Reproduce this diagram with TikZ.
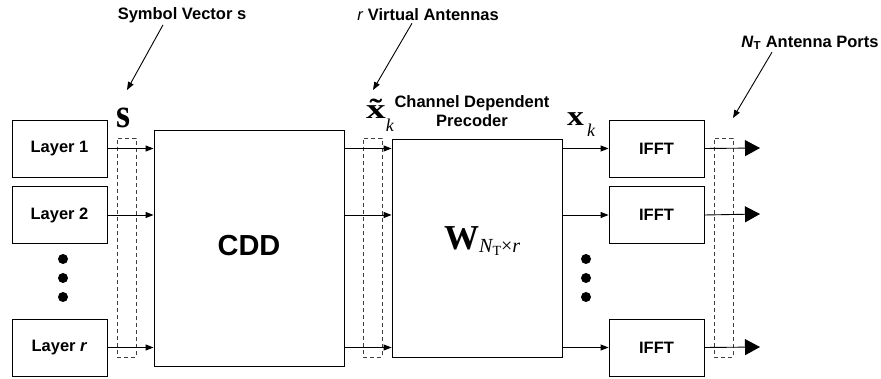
\documentclass[tikz,border=0pt]{standalone}
\usepackage[no-math]{fontspec}
\setmainfont{Liberation Sans}
\newfontfamily\tnr{Liberation Serif}
\usetikzlibrary{positioning, arrows.meta}

\begin{document}
\begin{tikzpicture}[x=1pt, y=-1pt, >={Triangle[length=8pt,width=6pt]},
    blk/.style={draw, line width=0.9pt, inner sep=0pt, font=\fontsize{16.5}{19}\selectfont\bfseries},
    smallblk/.style={blk, minimum width=95pt, minimum height=57pt},
    grp/.style={draw=black!75, line width=0.8pt, dash pattern=on 4pt off 3pt, minimum width=19pt, minimum height=219pt, inner sep=0pt},
    lbl/.style={font=\fontsize{16.5}{19}\selectfont\bfseries, inner sep=1pt},
    sym/.style={anchor=base west, inner sep=0pt, font=\tnr},
    dot/.style={fill, circle, inner sep=0pt, minimum size=10pt},
    flow/.style={->, line width=0.9pt},
    bigflow/.style={-{Triangle[length=15pt,width=16pt]}, line width=0.9pt}]
    \useasboundingbox (0,0) rectangle (881,379);

    % Schichten links
    \node[smallblk] (l1) at (59.5,148.5) {Layer 1};
    \node[smallblk] (l2) at (59.5,215) {Layer 2};
    \node[smallblk] (lr) at (59.5,347.5) {Layer \textit{r}};
    \foreach \y in {259,278,297} \node[dot] at (63,\y) {};

    % CDD und Precoder
    \node[blk, minimum width=190pt, minimum height=236pt, font=\fontsize{29}{31}\selectfont\bfseries] (cdd) at (249,248) {\raisebox{6pt}{CDD}};
    \node[blk, minimum width=170pt, minimum height=218pt] (pre) at (477,248) {};
    \node[sym] (wmat) at (444,250) {\fontsize{35}{35}\selectfont\bfseries W\raisebox{-3pt}{\mdseries\fontsize{20}{20}\selectfont\itshape N\raisebox{-3pt}{\upshape\fontsize{14}{14}\selectfont T}\upshape×\itshape r}};
    \node[lbl, align=center] (cdplbl) at (472,111) {Channel Dependent\\Precoder};

    % IFFT rechts
    \node[smallblk] (f1) at (656.5,148.5) {IFFT};
    \node[smallblk] (f2) at (656.5,215) {IFFT};
    \node[smallblk] (fr) at (656.5,347.5) {IFFT};
    \foreach \y in {259,278,297} \node[dot] at (586,\y) {};

    % Gestrichelte Gruppen
    \node[grp] (gs) at (126.5,247.5) {};
    \node[grp] (gx) at (372.5,247.5) {};
    \node[grp] (gn) at (723.5,247.5) {};

    % Verbindungen
    \foreach \a in {l1,l2,lr} \draw[flow] (\a.east) -- (\a.east -| cdd.west);
    \foreach \a in {l1,l2,lr} \draw[flow] (\a.east -| cdd.east) -- (\a.east -| pre.west);
    \foreach \a in {f1,f2,fr} \draw[flow] (\a.west -| pre.east) -- (\a.west);
    \coordinate (o1) at (760,148);
    \coordinate (o2) at (760,214);
    \coordinate (or) at (760,347);
    \draw[bigflow] (f1.east) -- (o1);
    \draw[bigflow] (f2.east) -- (o2);
    \draw[bigflow] (fr.east) -- (or);

    % Vektoren
    \node[sym] (svec) at (116,128) {\fontsize{36}{36}\selectfont\bfseries\scalebox{1}[1.15]{s}};
    \node[sym] (xt) at (366,119) {\fontsize{28}{28}\selectfont\bfseries\ooalign{\scalebox{1.4}[1]{x}\cr\hidewidth\scalebox{1.35}[1]{\char"02DC}\hidewidth\cr}\raisebox{-13pt}{\mdseries\itshape\fontsize{18}{18}\selectfont k}};
    \node[sym] (xk) at (567,126) {\fontsize{28}{28}\selectfont\bfseries\scalebox{1.2}[1]{x}\raisebox{-11pt}{\mdseries\itshape\fontsize{18}{18}\selectfont\,k}};

    % Beschriftungen mit Pfeilen
    \node[lbl] (slbl) at (182,15) {Symbol Vector s};
    \coordinate (stip) at (127,90);
    \draw[flow] ([xshift=-19pt,yshift=-1pt]slbl.south) -- (stip);
    \node[lbl] (vlbl) at (428,15) {\textit{\mdseries r} Virtual Antennas};
    \coordinate (vtip) at (373,90);
    \draw[flow] ([xshift=-16pt,yshift=-1pt]vlbl.south) -- (vtip);
    \node[lbl] (nlbl) at (810,43) {\textit{N}\textsubscript{T} Antenna Ports};
    \coordinate (ntip) at (733,118);
    \draw[flow] ([xshift=-38pt,yshift=-1pt]nlbl.south) -- (ntip);
\end{tikzpicture}
\end{document}
